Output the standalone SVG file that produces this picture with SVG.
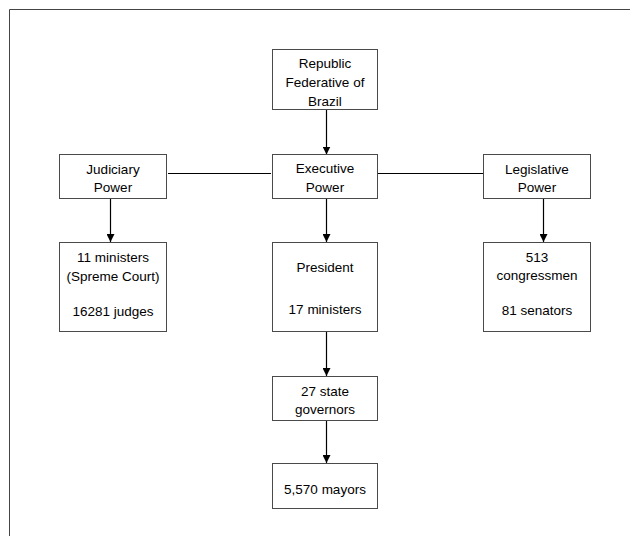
<svg xmlns="http://www.w3.org/2000/svg" width="630" height="536" viewBox="0 0 630 536">
<style>
.box{fill:#fff;stroke:#4a4a4a;stroke-width:1}
.t{font-family:"Liberation Sans",Arial,sans-serif;font-size:13.5px;fill:#000;text-anchor:middle}
.c{stroke:#000;stroke-width:1.2;fill:none}
</style>
<defs>
<marker id="ah" viewBox="0 0 10 10" refX="10" refY="5" markerWidth="8" markerHeight="8" markerUnits="userSpaceOnUse" orient="auto">
<path d="M0,0 L10,5 L0,10 z" fill="#000"/>
</marker>
</defs>
<rect width="630" height="536" fill="#fff"/>
<polyline points="9.5,536 9.5,9.5 630,9.5" fill="none" stroke="#444" stroke-width="1"/>
<g id="connectors">
<line class="c" x1="326.5" y1="109.5" x2="326.5" y2="154.5" marker-end="url(#ah)"/>
<line class="c" x1="168" y1="173.5" x2="271" y2="173.5"/>
<line class="c" x1="378" y1="173.5" x2="483" y2="173.5"/>
<line class="c" x1="110.5" y1="198" x2="110.5" y2="242" marker-end="url(#ah)"/>
<line class="c" x1="326.5" y1="198" x2="326.5" y2="242" marker-end="url(#ah)"/>
<line class="c" x1="543.5" y1="198" x2="543.5" y2="242" marker-end="url(#ah)"/>
<line class="c" x1="326.5" y1="332" x2="326.5" y2="376" marker-end="url(#ah)"/>
<line class="c" x1="326.5" y1="420" x2="326.5" y2="463" marker-end="url(#ah)"/>
</g>
<g id="republic">
<rect class="box" x="272.5" y="49.5" width="105" height="60"/>
<text class="t" x="325" y="67.5">Republic</text>
<text class="t" x="325" y="87">Federative of</text>
<text class="t" x="325" y="105.5">Brazil</text>
</g>
<g id="judiciary">
<rect class="box" x="59.5" y="154.5" width="107" height="44"/>
<text class="t" x="113" y="173.5">Judiciary</text>
<text class="t" x="113" y="191.5">Power</text>
</g>
<g id="executive">
<rect class="box" x="272.5" y="154.5" width="105" height="44"/>
<text class="t" x="325" y="173">Executive</text>
<text class="t" x="325" y="191.5">Power</text>
</g>
<g id="legislative">
<rect class="box" x="483.5" y="154.5" width="107" height="44"/>
<text class="t" x="537" y="173.5">Legislative</text>
<text class="t" x="537" y="191.5">Power</text>
</g>
<g id="judiciary-members">
<rect class="box" x="59.5" y="242.5" width="107" height="89"/>
<text class="t" x="113" y="262">11 ministers</text>
<text class="t" x="113" y="280.5">(Spreme Court)</text>
<text class="t" x="113" y="315.5">16281 judges</text>
</g>
<g id="president">
<rect class="box" x="272.5" y="242.5" width="105" height="89"/>
<text class="t" x="325" y="271.5">President</text>
<text class="t" x="325" y="313.5">17 ministers</text>
</g>
<g id="legislative-members">
<rect class="box" x="483.5" y="242.5" width="107" height="89"/>
<text class="t" x="537" y="261.5">513</text>
<text class="t" x="537" y="279.5">congressmen</text>
<text class="t" x="537" y="314.5">81 senators</text>
</g>
<g id="governors">
<rect class="box" x="272.5" y="376.5" width="105" height="44"/>
<text class="t" x="325" y="396">27 state</text>
<text class="t" x="325" y="413.5">governors</text>
</g>
<g id="mayors">
<rect class="box" x="272.5" y="463.5" width="105" height="45"/>
<text class="t" x="325" y="493.5">5,570 mayors</text>
</g>
</svg>
